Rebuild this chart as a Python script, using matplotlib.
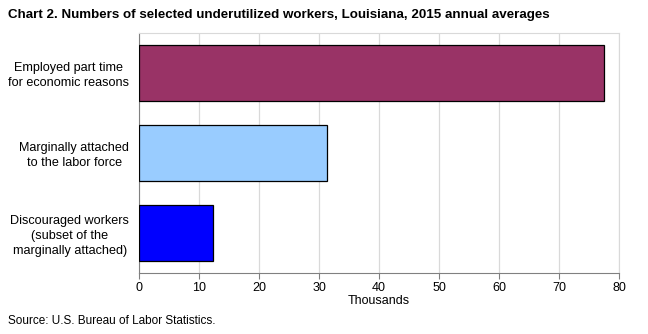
import matplotlib
matplotlib.use("Agg")
import matplotlib.pyplot as plt
import numpy as np

plt.rcParams["font.family"] = ["Liberation Sans", "DejaVu Sans"]

categories = [
    "Employed part time\nfor economic reasons",
    "Marginally attached\nto the labor force",
    "Discouraged workers\n(subset of the\nmarginally attached)",
]
values = [77.4, 31.3, 12.3]
colors = ["#993366", "#99CCFF", "#0000FF"]
xticks = [0, 10, 20, 30, 40, 50, 60, 70, 80]

fig = plt.figure(figsize=(6.48, 3.34), dpi=100)
ax = fig.add_axes([0.2145, 0.182, 0.7412, 0.720])

y = np.arange(len(categories))
ax.barh(y, values, height=0.7, color=colors, edgecolor="black", linewidth=0.9, zorder=3)

ax.set_xlim(0, 80)
ax.set_ylim(len(categories) - 0.5, -0.5)
ax.set_xticks(xticks)
ax.set_xticklabels([str(t) for t in xticks], fontsize=9)
ax.set_yticks(y)
ax.set_yticklabels(categories, fontsize=9.1, multialignment="center", linespacing=1.3)
ax.tick_params(axis="y", length=0, pad=7)
ax.tick_params(axis="x", length=4, color="#808080", pad=2)
ax.set_xlabel("Thousands", fontsize=9, labelpad=1)

ax.grid(axis="x", color="#D9D9D9", linewidth=0.9, zorder=0)
for side in ["top", "right"]:
    ax.spines[side].set_color("#D9D9D9")
for side in ["left", "bottom"]:
    ax.spines[side].set_color("#808080")

fig.text(0.012, 0.955, "Chart 2. Numbers of selected underutilized workers, Louisiana, 2015 annual averages",
         fontsize=9.6, fontweight="bold", va="center", ha="left")
fig.text(0.012, 0.04, "Source: U.S. Bureau of Labor Statistics.", fontsize=8.5, va="center", ha="left")

fig.savefig("out.png", dpi=100)
